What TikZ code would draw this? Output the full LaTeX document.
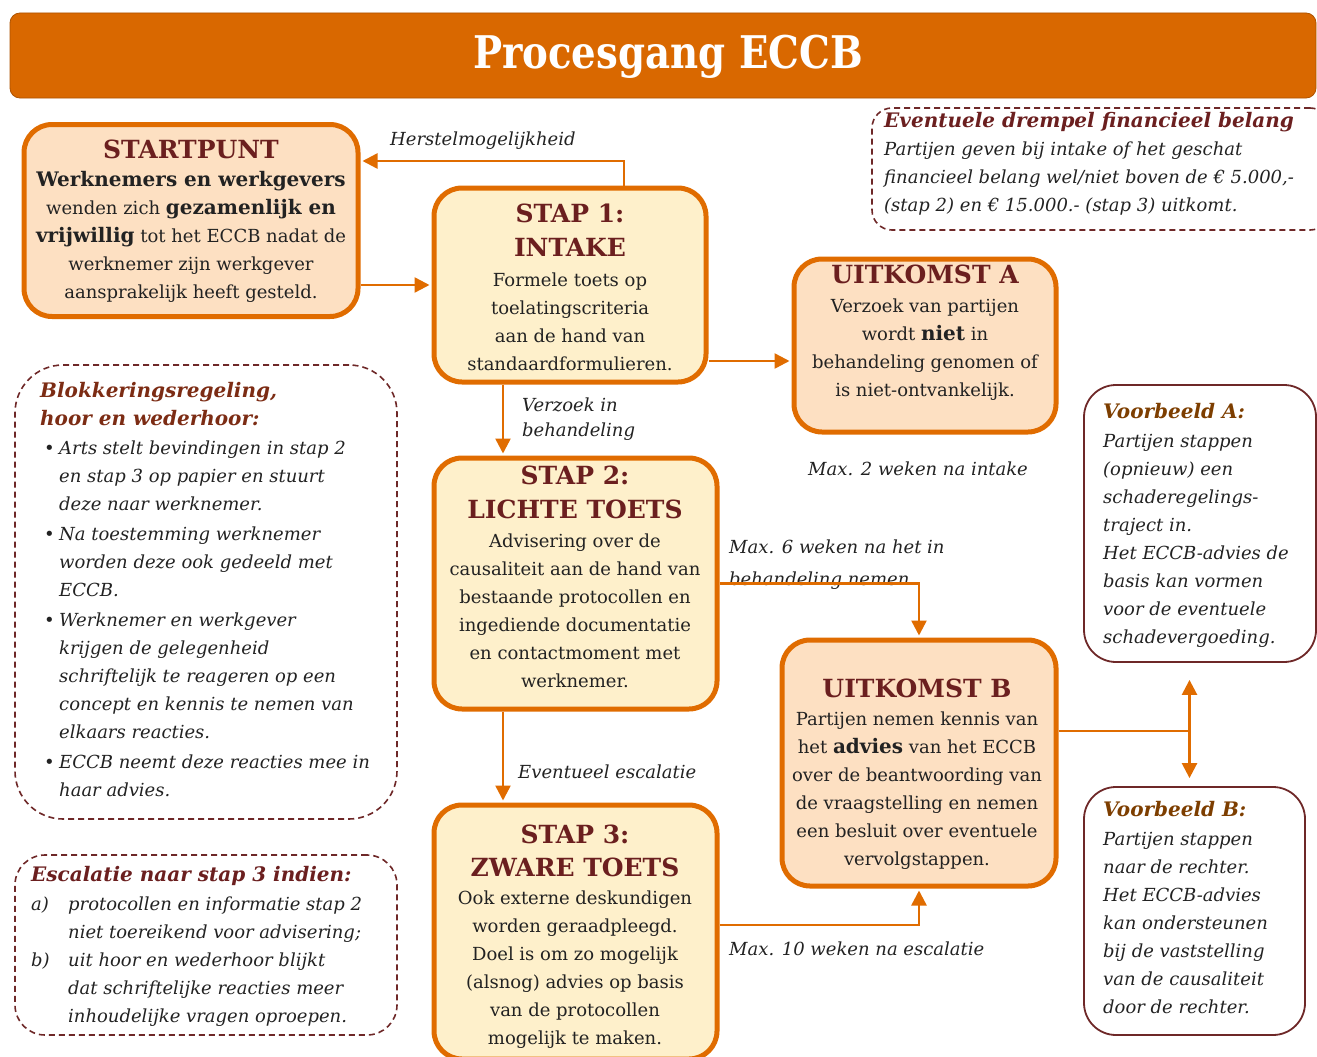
\documentclass[tikz,border=0pt]{standalone}
\usepackage{fontspec}
\setmainfont{DejaVu Serif}
\newfontfamily\titlefont[FakeStretch=0.86]{DejaVu Serif}
\usetikzlibrary{arrows.meta,positioning}

\definecolor{barorange}{HTML}{D96800}
\definecolor{lineorange}{HTML}{E06C00}
\definecolor{peachfill}{HTML}{FDE0C2}
\definecolor{creamfill}{HTML}{FEF0CB}
\definecolor{headred}{HTML}{6B1F1F}
\definecolor{rustred}{HTML}{7C2C14}
\definecolor{examplebrown}{HTML}{7D3E00}
\definecolor{framered}{HTML}{6E2828}
\definecolor{ink}{HTML}{222222}

\newcommand{\boxhead}[1]{{\fontsize{25}{28}\selectfont\bfseries\color{headred}#1}}
\newcommand{\notehead}[2]{{\fontsize{20}{28}\selectfont\bfseries\color{#1}#2}}
\newcommand{\keyword}[1]{{\fontsize{20}{28}\selectfont\bfseries #1}}
\newcommand{\bulitem}{\hspace*{4pt}\makebox[15pt][l]{\textbullet}}
\newcommand{\bulindent}{\hspace*{19pt}}

\begin{document}
\begin{tikzpicture}[x=1pt,y=-1pt,>={Triangle[length=15pt,width=15pt]},
  mainbox/.style={draw=lineorange,line width=5pt,rounded corners=28pt,inner sep=0pt},
  stepbox/.style={mainbox,fill=creamfill},
  outbox/.style={mainbox,fill=peachfill},
  notebox/.style={draw=framered,line width=1.6pt,dash pattern=on 6pt off 4pt,rounded corners=#1},
  notebox/.default=30pt,
  examplebox/.style={draw=framered,line width=1.8pt,rounded corners=32pt},
  boxtext/.style={anchor=north,align=center,inner sep=0pt,text=ink,font=\fontsize{18}{28}\selectfont},
  notetext/.style={anchor=north west,align=left,inner sep=0pt,text=ink,font=\itshape\fontsize{18}{28}\selectfont},
  edgetext/.style={anchor=base west,inner sep=0pt,text=ink,font=\itshape\fontsize{18}{28}\selectfont},
  flow/.style={draw=lineorange,line width=2.5pt,->,shorten >=2pt},
  link/.style={draw=lineorange,line width=2.5pt},
]
\useasboundingbox (0,0) rectangle (1317,1057);

% title bar
\node[fill=barorange,draw=barorange!80!black,line width=0.8pt,rounded corners=10pt,minimum width=1306pt,minimum height=85pt] (titlebar) at (663,55.5) {};
\node[anchor=base,text=white,inner sep=0pt,font=\titlefont\bfseries\fontsize{45}{50}\selectfont] (title) at (668,68) {Procesgang ECCB};

% process boxes
\node[outbox,minimum width=334pt,minimum height=192pt] (start) at (191,220.5) {};
\node[boxtext] (starttxt) at (191,140) {\boxhead{STARTPUNT}\\ \keyword{Werknemers en werkgevers}\\ wenden zich \keyword{gezamenlijk en}\\ \keyword{vrijwillig} tot het ECCB nadat de\\ werknemer zijn werkgever\\ aansprakelijk heeft gesteld.};

\node[stepbox,minimum width=272pt,minimum height=194pt] (stap1) at (570,285) {};
\node[boxtext] (stap1txt) at (570,204) {\boxhead{STAP 1:}\\[6pt] \boxhead{INTAKE}\\[2pt] Formele toets op\\ toelatingscriteria\\ aan de hand van\\ standaardformulieren.};

\node[outbox,minimum width=262pt,minimum height=173pt] (uitA) at (925,345.5) {};
\node[boxtext] (uitAtxt) at (925,265) {\boxhead{UITKOMST A}\\[1pt] Verzoek van partijen\\ wordt \keyword{niet} in\\ behandeling genomen of\\ is niet-ontvankelijk.};

\node[stepbox,minimum width=283pt,minimum height=251pt] (stap2) at (575.5,583.5) {};
\node[boxtext] (stap2txt) at (575,466) {\boxhead{STAP 2:}\\[6pt] \boxhead{LICHTE TOETS}\\[1pt] Advisering over de\\ causaliteit aan de hand van\\ bestaande protocollen en\\ ingediende documentatie\\ en contactmoment met\\ werknemer.};

\node[outbox,minimum width=274pt,minimum height=246pt] (uitB) at (919,763) {};
\node[boxtext] (uitBtxt) at (917,679) {\boxhead{UITKOMST B}\\ Partijen nemen kennis van\\ het \keyword{advies} van het ECCB\\ over de beantwoording van\\ de vraagstelling en nemen\\ een besluit over eventuele\\ vervolgstappen.};

\node[stepbox,minimum width=283pt,minimum height=254pt] (stap3) at (575.5,932) {};
\node[boxtext] (stap3txt) at (575,825) {\boxhead{STAP 3:}\\[5pt] \boxhead{ZWARE TOETS}\\ Ook externe deskundigen\\ worden geraadpleegd.\\ Doel is om zo mogelijk\\ (alsnog) advies op basis\\ van de protocollen\\ mogelijk te maken.};

% notes
\node[notebox=20pt,minimum width=458pt,minimum height=122pt] (drempel) at (1101,169) {};
\node[notetext] (drempeltxt) at (884,112) {\notehead{headred}{Eventuele drempel financieel belang}\\ Partijen geven bij intake of het geschat\\ financieel belang wel/niet boven de € 5.000,-\\ (stap 2) en € 15.000.- (stap 3) uitkomt.};

\node[notebox=48pt,minimum width=382pt,minimum height=454pt] (blok) at (206,592) {};
\node[notetext] (bloktxt) at (40,382) {\notehead{rustred}{Blokkeringsregeling,}\\ \notehead{rustred}{hoor en wederhoor:}\\[1pt] \bulitem Arts stelt bevindingen in stap 2\\ \bulindent en stap 3 op papier en stuurt\\ \bulindent deze naar werknemer.\\[2pt] \bulitem Na toestemming werknemer\\ \bulindent worden deze ook gedeeld met\\ \bulindent ECCB.\\[2pt] \bulitem Werknemer en werkgever\\ \bulindent krijgen de gelegenheid\\ \bulindent schriftelijk te reageren op een\\ \bulindent concept en kennis te nemen van\\ \bulindent elkaars reacties.\\[2pt] \bulitem ECCB neemt deze reacties mee in\\ \bulindent haar advies.};

\node[notebox=30pt,minimum width=382pt,minimum height=180pt] (escal) at (206,945) {};
\node[notetext] (escaltxt) at (31,866) {\notehead{headred}{Escalatie naar stap 3 indien:}\\[1pt] \makebox[37pt][l]{a)}protocollen en informatie stap 2\\ \hspace*{37pt}niet toereikend voor advisering;\\ \makebox[37pt][l]{b)}uit hoor en wederhoor blijkt\\ \hspace*{37pt}dat schriftelijke reacties meer\\ \hspace*{37pt}inhoudelijke vragen oproepen.};

\node[examplebox,minimum width=232pt,minimum height=277pt] (voorA) at (1200,523.5) {};
\node[notetext] (voorAtxt) at (1103,403) {\notehead{examplebrown}{Voorbeeld A:}\\[1pt] Partijen stappen\\ (opnieuw) een\\ schaderegelings-\\ traject in.\\ Het ECCB-advies de\\ basis kan vormen\\ voor de eventuele\\ schadevergoeding.};

\node[examplebox,minimum width=221pt,minimum height=248pt] (voorB) at (1194.5,911) {};
\node[notetext] (voorBtxt) at (1103,801) {\notehead{examplebrown}{Voorbeeld B:}\\[1pt] Partijen stappen\\ naar de rechter.\\ Het ECCB-advies\\ kan ondersteunen\\ bij de vaststelling\\ van de causaliteit\\ door de rechter.};

% connector labels
\node[edgetext] (herstel) at (390,145) {Herstelmogelijkheid};
\node[notetext,font=\itshape\fontsize{18}{25}\selectfont] (verzoek) at (522,398) {Verzoek in\\ behandeling};
\node[edgetext] (max2) at (808,475) {Max. 2 weken na intake};
\node[notetext,font=\itshape\fontsize{18}{32}\selectfont] (max6) at (729,540) {Max. 6 weken na het in\\ behandeling nemen};
\node[edgetext] (escalatie) at (518,778) {Eventueel escalatie};
\node[edgetext] (max10) at (729,955) {Max. 10 weken na escalatie};

% connectors
\draw[flow] ([xshift=54pt]stap1.north) |- ([yshift=59.5pt]start.east);
\draw[flow] (stap1.west -| start.east) -- (stap1.west);
\coordinate (s1out) at ([yshift=-76pt]stap1.east);
\draw[flow] (s1out) -- (s1out -| uitA.west);
\coordinate (s1down) at ([xshift=-67pt]stap1.south);
\draw[flow] (s1down) -- (s1down |- stap2.north);
\draw[flow] (stap2.east) -| (uitB.north);
\coordinate (s2down) at ([xshift=-72.5pt]stap2.south);
\draw[flow] (s2down) -- (s2down |- stap3.north);
\coordinate (s3out) at ([yshift=7pt]stap3.east);
\draw[flow] (s3out) -| (uitB.south);
\coordinate (bout) at ([yshift=32pt]uitB.east);
\draw[link] (bout) -- ++(131,0) coordinate (split);
\draw[flow,<->,shorten <=17pt,shorten >=8pt] (split |- voorA.south) -- (split |- voorB.north);
\end{tikzpicture}
\end{document}
